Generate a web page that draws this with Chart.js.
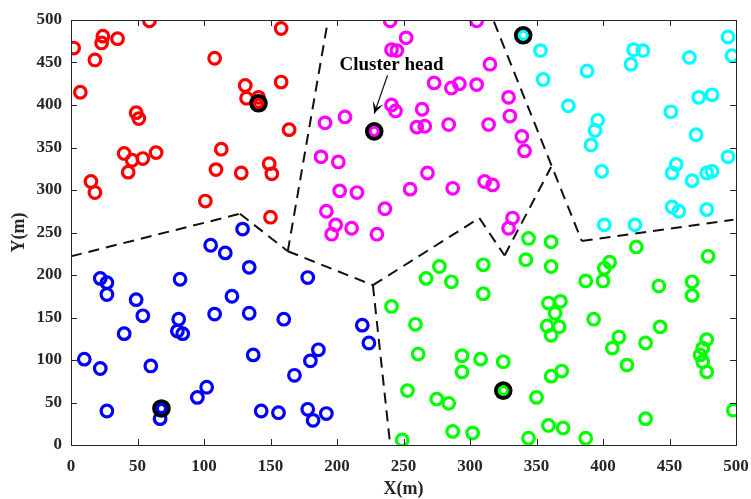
<!DOCTYPE html>
<html>
<head>
<meta charset="utf-8">
<script src="https://cdn.jsdelivr.net/npm/chart.js@4/dist/chart.umd.min.js"></script>
<style>
  html, body { margin: 0; padding: 0; background: #ffffff; }
  #wrap { width: 751px; height: 499px; }
</style>
</head>
<body>
<div id="wrap"><canvas id="c" width="751" height="499"></canvas></div>
<script>
// ---- data ----
const redX = [59,158,24,35,23,2,18,108,7,131,158,132,141,141,49,51,164,40,64,54,46,113,43,109,128,149,151,15,18,101,150];
const redY = [499,490,481,478,473,467,453,455,415,423,427,408,409,402,391,384,371,343,344,337,335,348,321,324,320,331,319,310,297,287,268];

const magentaX = [240,305,252,241,245,315,273,286,292,305,329,330,241,244,264,191,206,228,260,266,284,314,339,341,188,201,268,311,317,202,215,255,287,192,236,199,211,196,230,332,329];
const magentaY = [499,499,479,465,464,448,426,420,425,424,409,387,400,393,395,379,386,369,374,375,377,377,363,346,339,333,320,310,306,299,297,301,302,275,278,259,255,248,248,267,255];

const cyanX = [340,353,355,388,423,430,421,465,494,497,374,396,394,391,399,451,472,482,470,494,455,452,467,478,482,452,457,478,401,424];
const cyanY = [482,464,430,440,465,464,448,456,480,458,399,382,370,353,322,392,409,412,365,339,330,320,311,320,322,280,275,277,259,259];

const blueX = [129,105,116,134,178,22,27,27,82,121,49,54,81,80,84,108,134,160,40,10,22,60,137,186,180,168,102,95,27,68,67,143,156,178,182,192,219,224];
const blueY = [254,235,226,209,197,196,191,177,195,175,171,152,148,134,131,154,155,148,131,101,90,93,106,112,99,82,68,56,40,43,31,40,38,42,29,37,141,120];

const greenX = [344,361,342,361,425,479,277,267,286,310,310,387,401,405,400,442,467,467,241,259,359,368,364,358,367,361,393,412,407,443,432,418,478,475,473,475,478,261,294,294,308,325,361,369,325,253,275,284,350,498,432,287,302,359,370,344,387,249];
const greenY = [243,239,218,210,233,222,210,196,192,212,178,193,208,215,193,187,192,176,163,142,167,169,155,140,139,129,148,127,114,139,120,94,124,114,106,98,86,107,105,86,101,98,81,87,64,64,54,49,56,41,31,16,14,23,20,8,8,6];

const headX = [141,228,340,68,325];
const headY = [402,369,482,43,64];
const headColors = ['#ff0000','#ff00ff','#00ffff','#0000ff','#00ff00'];

// boundary segments [x1, y1, x2, y2]
const boundarySegments = [
  [0,222,127,272],
  [127,272,163,228],
  [163,228,193,498],
  [163,228,227,188],
  [227,188,240,0],
  [227,188,307,267],
  [307,267,326,223],
  [326,223,361,327],
  [318,498,384,240],
  [384,240,498,265]
];

const xTicks = [0,50,100,150,200,250,300,350,400,450,500];
const yTicks = [0,50,100,150,200,250,300,350,400,450,500];

const annotationText = 'Cluster head';
const annotationTextPos = [241, 447];
const arrowFrom = [238, 435];
const arrowTo = [228, 390];

// ---- build datasets ----
function pts(xs, ys) { return xs.map((x, i) => ({x: x, y: ys[i]})); }

const datasets = [];
datasets.push({
  label: 'head-inner',
  data: pts(headX, headY),
  pointRadius: 3.8,
  pointBorderWidth: 2.6,
  pointBorderColor: headColors,
  pointBackgroundColor: 'rgba(0,0,0,0)',
  showLine: false
});
datasets.push({
  label: 'head-ring',
  data: pts(headX, headY),
  pointRadius: 7.4,
  pointBorderWidth: 3.8,
  pointBorderColor: '#000000',
  pointBackgroundColor: 'rgba(0,0,0,0)',
  showLine: false
});
const clusters = [
  [redX, redY, '#ff0000'],
  [magentaX, magentaY, '#ff00ff'],
  [cyanX, cyanY, '#00ffff'],
  [blueX, blueY, '#0000ff'],
  [greenX, greenY, '#00ff00']
];
clusters.forEach(c => {
  datasets.push({
    data: pts(c[0], c[1]),
    pointRadius: 5.8,
    pointBorderWidth: 3.2,
    pointBorderColor: c[2],
    pointBackgroundColor: 'rgba(0,0,0,0)',
    showLine: false
  });
});
boundarySegments.forEach(s => {
  datasets.push({
    data: [{x: s[0], y: s[1]}, {x: s[2], y: s[3]}],
    showLine: true,
    borderColor: '#111111',
    borderWidth: 2,
    borderDash: [11, 7],
    pointRadius: 0,
    fill: false
  });
});

const serif = "'Liberation Serif', 'DejaVu Serif', serif";
const axisColor = '#262626';

const boxPlugin = {
  id: 'boxTicks',
  afterDraw(chart) {
    const ctx = chart.ctx;
    const a = chart.chartArea;
    const xs = chart.scales.x, ys = chart.scales.y;
    ctx.save();
    ctx.strokeStyle = axisColor;
    ctx.lineWidth = 1;
    ctx.strokeRect(Math.round(a.left) + 0.5, Math.round(a.top) + 0.5, Math.round(a.right - a.left), Math.round(a.bottom - a.top));
    const tl = 6;
    ctx.beginPath();
    xTicks.forEach(v => {
      const px = Math.round(xs.getPixelForValue(v)) + 0.5;
      ctx.moveTo(px, a.bottom); ctx.lineTo(px, a.bottom - tl);
      ctx.moveTo(px, a.top); ctx.lineTo(px, a.top + tl);
    });
    yTicks.forEach(v => {
      const py = Math.round(ys.getPixelForValue(v)) + 0.5;
      ctx.moveTo(a.left, py); ctx.lineTo(a.left + tl, py);
      ctx.moveTo(a.right, py); ctx.lineTo(a.right - tl, py);
    });
    ctx.stroke();

    // annotation
    const tx = xs.getPixelForValue(annotationTextPos[0]);
    const ty = ys.getPixelForValue(annotationTextPos[1]);
    ctx.fillStyle = '#000000';
    ctx.font = "bold 19px " + serif;
    ctx.textAlign = 'center';
    ctx.textBaseline = 'middle';
    ctx.fillText(annotationText, tx, ty);

    const x1 = xs.getPixelForValue(arrowFrom[0]), y1 = ys.getPixelForValue(arrowFrom[1]);
    const x2 = xs.getPixelForValue(arrowTo[0]), y2 = ys.getPixelForValue(arrowTo[1]);
    ctx.strokeStyle = '#222222';
    ctx.lineWidth = 1.3;
    ctx.beginPath();
    ctx.moveTo(x1, y1); ctx.lineTo(x2, y2);
    ctx.stroke();
    const ang = Math.atan2(y2 - y1, x2 - x1);
    const hl = 13, hw = 0.45;
    ctx.fillStyle = '#000000';
    ctx.beginPath();
    ctx.moveTo(x2, y2);
    ctx.lineTo(x2 - hl * Math.cos(ang - hw), y2 - hl * Math.sin(ang - hw));
    ctx.lineTo(x2 - 0.45 * hl * Math.cos(ang), y2 - 0.45 * hl * Math.sin(ang));
    ctx.lineTo(x2 - hl * Math.cos(ang + hw), y2 - hl * Math.sin(ang + hw));
    ctx.closePath();
    ctx.fill();
    ctx.restore();
  }
};

new Chart(document.getElementById('c'), {
  type: 'scatter',
  data: { datasets: datasets },
  options: {
    responsive: false,
    animation: false,
    events: [],
    layout: { padding: { top: 20, right: 15, left: 0, bottom: 0 } },
    plugins: { legend: { display: false }, tooltip: { enabled: false } },
    scales: {
      x: {
        type: 'linear', min: 0, max: 500,
        grid: { display: false, drawTicks: false },
        border: { display: false },
        afterBuildTicks(s) { s.ticks = xTicks.map(v => ({value: v})); },
        afterFit(s) { s.height = 54; s.paddingLeft = 0; s.paddingRight = 0; },
        ticks: { color: axisColor, padding: 11, maxRotation: 0, autoSkip: false, font: { family: serif, size: 17, weight: 'bold' } },
        title: { display: true, text: 'X(m)', color: axisColor, padding: { top: 0, bottom: -1 }, font: { family: serif, size: 18, weight: 'bold' } }
      },
      y: {
        type: 'linear', min: 0, max: 500,
        grid: { display: false, drawTicks: false },
        border: { display: false },
        afterBuildTicks(s) { s.ticks = yTicks.map(v => ({value: v})); },
        afterFit(s) { s.width = 71; s.paddingTop = 0; s.paddingBottom = 0; },
        ticks: { color: axisColor, padding: 9, autoSkip: false, font: { family: serif, size: 17, weight: 'bold' } },
        title: { display: true, text: 'Y(m)', color: axisColor, padding: { top: 9, bottom: 0 }, font: { family: serif, size: 18, weight: 'bold' } }
      }
    }
  },
  plugins: [boxPlugin]
});
</script>
</body>
</html>
